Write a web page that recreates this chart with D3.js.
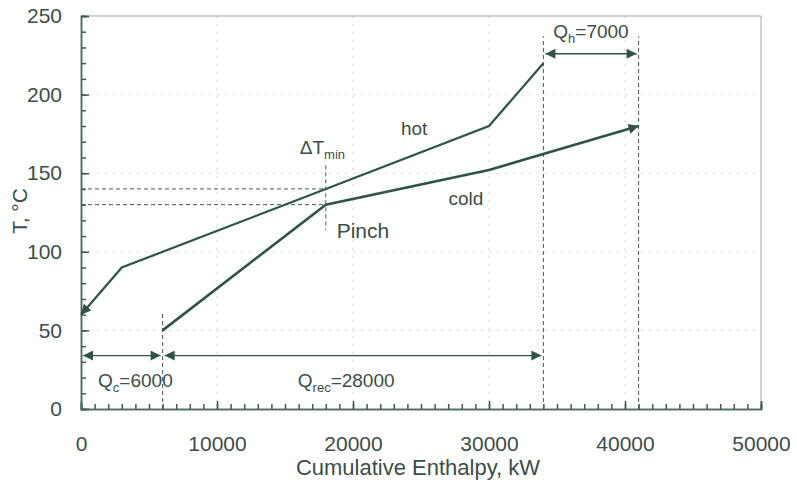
<!DOCTYPE html>
<html>
<head>
<meta charset="utf-8">
<script src="https://cdn.jsdelivr.net/npm/d3@7"></script>
<style>
  body { margin: 0; background: #fff; }
  text { font-family: "Liberation Sans", Arial, sans-serif; fill: #3c4d47; }
</style>
</head>
<body>
<div id="wrapper"></div>
<script>
// composite curves (drawn in the direction of the arrow)
const hotEnthalpy = [34000, 30000, 18000, 3000, 0];
const hotTemp = [220, 180, 140, 90, 60];
const coldEnthalpy = [6000, 18000, 30000, 41000];
const coldTemp = [50, 130, 152, 180];

const xTicks = [0, 10000, 20000, 30000, 40000, 50000];
const yTicks = [0, 50, 100, 150, 200, 250];

// heat duties: start, end, temperature level of the arrow, where the label sits
const dutyNames = ["c", "rec", "h"];
const dutyValues = ["=6000", "=28000", "=7000"];
const dutyStart = [0, 6000, 34000];
const dutyEnd = [6000, 34000, 41000];
const dutyLevel = [34, 34, 226];
const dutyLabelAt = [4000, 19500, 37500];

const pinchEnthalpy = 18000;
const pinchHot = 140;
const pinchCold = 130;

function buildPlot(id) {
    const dimension = {
        width: 797,
        height: 484,
        margin: { top: 16, left: 81, bottom: 75, right: 36 }
    };
    dimension.boundedWidth = dimension.width - dimension.margin.left - dimension.margin.right;
    dimension.boundedHeight = dimension.height - dimension.margin.top - dimension.margin.bottom;

    const lineColor = "#2f5446";
    const axisColor = "#4d6a60";

    const svg = d3.select("#" + id).append("svg")
        .attr("width", dimension.width)
        .attr("height", dimension.height);

    const defs = svg.append("defs");
    defs.append("marker")
        .attr("id", "head")
        .attr("viewBox", "0 0 10 10")
        .attr("refX", 10).attr("refY", 5)
        .attr("markerWidth", 12).attr("markerHeight", 10)
        .attr("markerUnits", "userSpaceOnUse")
        .attr("orient", "auto-start-reverse")
        .append("path")
        .attr("d", "M0,0 L10,5 L0,10 Z")
        .attr("fill", lineColor);

    const bounded = svg.append("g")
        .attr("transform", `translate(${dimension.margin.left},${dimension.margin.top})`);

    const xScaler = d3.scaleLinear().domain([0, 50000]).range([0, dimension.boundedWidth]);
    const yScaler = d3.scaleLinear().domain([0, 250]).range([dimension.boundedHeight, 0]);

    // light dotted grid
    bounded.append("g").selectAll("line")
        .data(yTicks.slice(1, -1))
        .join("line")
        .attr("x1", 0).attr("x2", dimension.boundedWidth)
        .attr("y1", d => yScaler(d)).attr("y2", d => yScaler(d))
        .attr("stroke", "#cdd4d1").attr("stroke-dasharray", "2,6");
    bounded.append("g").selectAll("line")
        .data(xTicks.slice(1, -1))
        .join("line")
        .attr("x1", d => xScaler(d)).attr("x2", d => xScaler(d))
        .attr("y1", 0).attr("y2", dimension.boundedHeight)
        .attr("stroke", "#cdd4d1").attr("stroke-dasharray", "2,6");

    // frame top + right
    bounded.append("path")
        .attr("d", `M0,0 H${dimension.boundedWidth} V${dimension.boundedHeight}`)
        .attr("fill", "none")
        .attr("stroke", "#9aa8a3");

    // axes with inward ticks (minor and major in separate groups)
    const xMinor = d3.axisBottom(xScaler).tickValues(d3.range(0, 50001, 1000)).tickSize(-5).tickFormat(() => "");
    const xAxis = d3.axisBottom(xScaler).tickValues(xTicks).tickSize(-8).tickPadding(27).tickFormat(d => d);
    const yMinor = d3.axisLeft(yScaler).tickValues(d3.range(0, 251, 10)).tickSize(-5).tickFormat(() => "");
    const yAxis = d3.axisLeft(yScaler).tickValues(yTicks).tickSize(-8).tickPadding(19);

    bounded.append("g").attr("transform", `translate(0,${dimension.boundedHeight})`).call(xMinor);
    const gx = bounded.append("g").attr("transform", `translate(0,${dimension.boundedHeight})`).call(xAxis);
    bounded.append("g").call(yMinor);
    bounded.append("g").call(yAxis);
    bounded.selectAll(".domain").attr("stroke", axisColor).attr("stroke-width", 1.5);
    bounded.selectAll(".tick line").attr("stroke", "#3f5a50").attr("stroke-width", 1.5);
    bounded.selectAll(".tick text").style("font-size", "21px").attr("fill", "#3c4d47");
    gx.selectAll(".tick text").attr("dy", "0.71em");

    // dashed construction lines
    const dashed = bounded.append("g")
        .attr("stroke", "#44594f").attr("stroke-dasharray", "4,3").attr("fill", "none");
    dashed.append("line")
        .attr("x1", xScaler(0)).attr("x2", xScaler(pinchEnthalpy))
        .attr("y1", yScaler(pinchHot)).attr("y2", yScaler(pinchHot));
    dashed.append("line")
        .attr("x1", xScaler(0)).attr("x2", xScaler(pinchEnthalpy))
        .attr("y1", yScaler(pinchCold)).attr("y2", yScaler(pinchCold));
    dashed.append("line")
        .attr("x1", xScaler(pinchEnthalpy)).attr("x2", xScaler(pinchEnthalpy))
        .attr("y1", yScaler(155)).attr("y2", yScaler(114));
    dashed.append("line")
        .attr("x1", xScaler(coldEnthalpy[0])).attr("x2", xScaler(coldEnthalpy[0]))
        .attr("y1", yScaler(0)).attr("y2", yScaler(62));
    dashed.append("line")
        .attr("x1", xScaler(hotEnthalpy[0])).attr("x2", xScaler(hotEnthalpy[0]))
        .attr("y1", yScaler(0)).attr("y2", yScaler(237));
    dashed.append("line")
        .attr("x1", xScaler(coldEnthalpy[coldEnthalpy.length - 1])).attr("x2", xScaler(coldEnthalpy[coldEnthalpy.length - 1]))
        .attr("y1", yScaler(0)).attr("y2", yScaler(237));

    // composite curves
    const lineGenerator = d3.line()
        .x(d => xScaler(d[0]))
        .y(d => yScaler(d[1]));

    bounded.append("path")
        .attr("d", lineGenerator(d3.zip(hotEnthalpy, hotTemp)))
        .attr("fill", "none")
        .attr("stroke", lineColor)
        .attr("stroke-width", 2.2)
        .attr("marker-end", "url(#head)");

    bounded.append("path")
        .attr("d", lineGenerator(d3.zip(coldEnthalpy, coldTemp)))
        .attr("fill", "none")
        .attr("stroke", lineColor)
        .attr("stroke-width", 2.6)
        .attr("marker-end", "url(#head)");

    // duty arrows
    dutyNames.forEach((name, i) => {
        const x0 = xScaler(dutyStart[i]) + 2;
        const x1 = xScaler(dutyEnd[i]) - 2;
        const y = yScaler(dutyLevel[i]);
        bounded.append("line")
            .attr("x1", x0).attr("x2", x1)
            .attr("y1", y).attr("y2", y)
            .attr("stroke", lineColor)
            .attr("stroke-width", 1.3)
            .attr("marker-start", "url(#head)")
            .attr("marker-end", "url(#head)");

        const label = bounded.append("text")
            .attr("text-anchor", "middle")
            .style("font-size", "19px")
            .attr("x", xScaler(dutyLabelAt[i]))
            .attr("y", i === 2 ? y - 16 : y + 31);
        label.append("tspan").text("Q");
        label.append("tspan").attr("dy", 5).style("font-size", "13px").text(name);
        label.append("tspan").attr("dy", -5).text(dutyValues[i]);
    });

    // curve labels
    bounded.append("text")
        .attr("x", xScaler(24500)).attr("y", yScaler(174))
        .attr("text-anchor", "middle")
        .style("font-size", "19px")
        .text("hot");
    bounded.append("text")
        .attr("x", xScaler(28300)).attr("y", yScaler(130))
        .attr("text-anchor", "middle")
        .style("font-size", "19px")
        .text("cold");
    bounded.append("text")
        .attr("x", xScaler(18800)).attr("y", yScaler(109))
        .style("font-size", "21px")
        .text("Pinch");

    const dt = bounded.append("text")
        .attr("x", xScaler(pinchEnthalpy) - 26).attr("y", yScaler(162))
        .style("font-size", "19px");
    dt.append("tspan").text("\u0394T");
    dt.append("tspan").attr("dy", 5).style("font-size", "13px").text("min");

    // axis titles
    svg.append("text")
        .attr("x", 418)
        .attr("y", 475)
        .attr("text-anchor", "middle")
        .style("font-size", "22px")
        .text("Cumulative Enthalpy, kW");

    svg.append("text")
        .attr("transform", "translate(27,211)rotate(-90)")
        .attr("text-anchor", "middle")
        .style("font-size", "21px")
        .text("T, \u00B0C");
}

buildPlot("wrapper");
</script>
</body>
</html>
